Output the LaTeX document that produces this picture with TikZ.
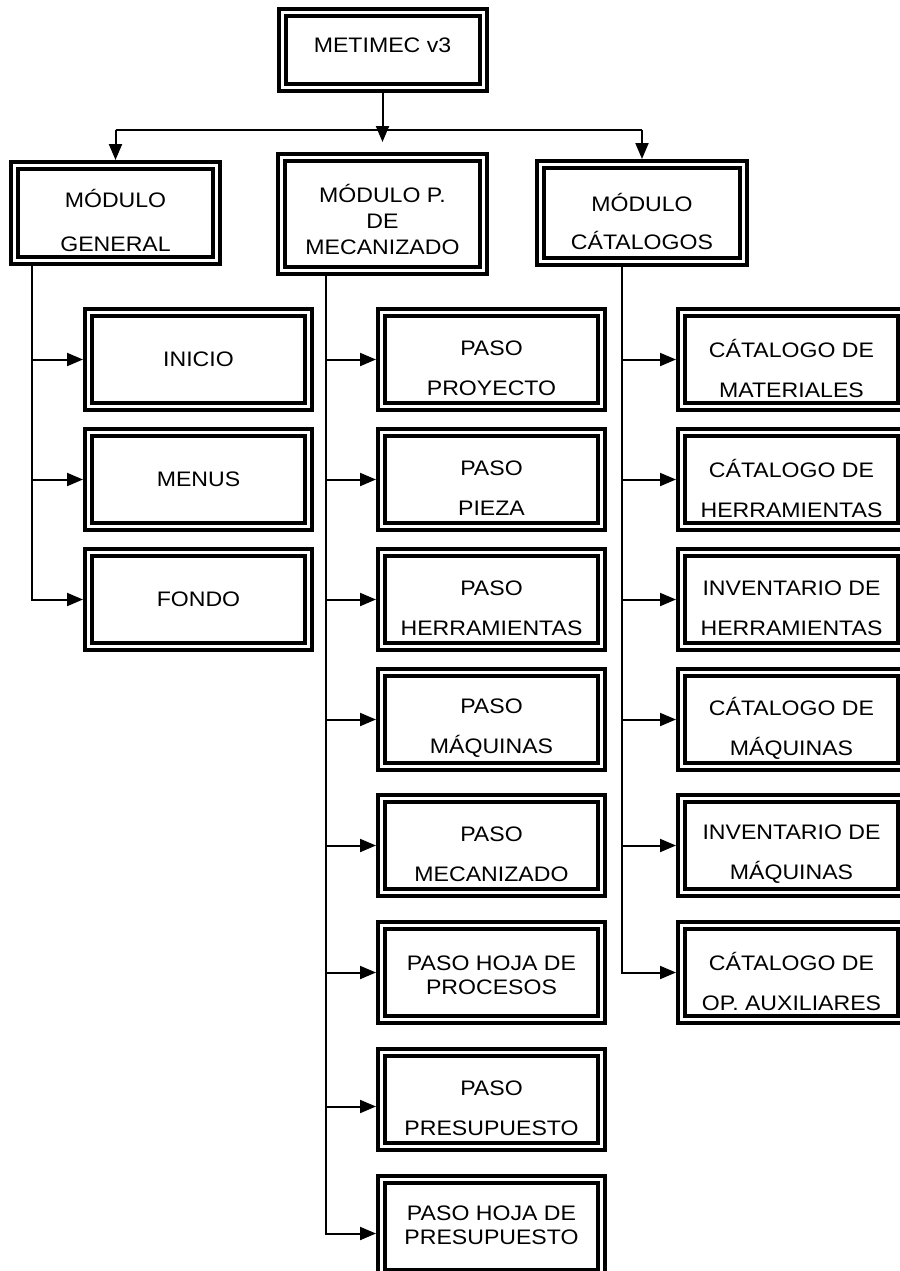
\documentclass[tikz,border=0pt]{standalone}
\usepackage{fontspec}
\setmainfont{Liberation Sans}[FakeStretch=1.1]
\usetikzlibrary{arrows.meta, positioning}

\begin{document}
\begin{tikzpicture}[x=0.5pt, y=-0.5pt, >={Triangle[length=8pt,width=6.5pt]},
    box/.style={draw, line width=2pt, double, double distance=1.5pt, outer sep=2.75pt, inner sep=0pt, minimum width=110pt, minimum height=47pt},
    modbox/.style={box, minimum width=101pt, minimum height=47.5pt},
    txt/.style={font=\fontsize{10.5pt}{12pt}\selectfont, align=center, inner sep=0pt},
    lbl/.style={txt, yshift=-4.25pt},
    link/.style={line width=1pt}]
    \path[use as bounding box] (0,0) rectangle (900,1271);
    \clip (0,0) rectangle (900,1271);

    % raiz y modulos
    \node[box, minimum width=100.5pt, minimum height=37.5pt, label={[txt,yshift=2.5pt]center:METIMEC v3}] (metimec) at (382.5,50) {};
    \node[modbox, label={[txt,yshift=-3.5pt]center:MÓDULO\\[10pt]GENERAL}] (general) at (115.5,213) {};
    \node[modbox, minimum height=56.5pt, label={[txt,yshift=-2.5pt]center:MÓDULO P.\\[1pt]DE\\[1pt]MECANIZADO}] (mecan) at (382.5,214) {};
    \node[modbox, minimum width=101.5pt, minimum height=48.5pt, label={[txt,yshift=-4pt]center:MÓDULO\\[7pt]CÁTALOGOS}] (catalog) at (642,213) {};

    % modulo general
    \node[box, label={[txt]center:INICIO}] (inicio) at (198.5,359.5) {};
    \node[box, below=7.5pt of inicio, label={[txt]center:MENUS}] (menus) {};
    \node[box, below=7.5pt of menus, label={[txt]center:FONDO}] (fondo) {};

    % modulo p. de mecanizado
    \node[box, label={[lbl]center:PASO\\[8pt]PROYECTO}] (proyecto) at (491.5,359.5) {};
    \node[box, below=7.5pt of proyecto, label={[lbl]center:PASO\\[8pt]PIEZA}] (pieza) {};
    \node[box, below=7.5pt of pieza, label={[lbl]center:PASO\\[8pt]HERRAMIENTAS}] (pherr) {};
    \node[box, below=7.5pt of pherr, label={[lbl]center:PASO\\[8pt]MÁQUINAS}] (pmaq) {};
    \node[box, below=10.5pt of pmaq, label={[lbl]center:PASO\\[8pt]MECANIZADO}] (pmec) {};
    \node[box, below=11pt of pmec, label={[txt,yshift=-1.25pt]center:PASO HOJA DE\\PROCESOS}] (procesos) {};
    \node[box, below=11pt of procesos, label={[lbl]center:PASO\\[8pt]PRESUPUESTO}] (presup) {};
    \node[box, below=11pt of presup, label={[txt,yshift=0.5pt]center:PASO HOJA DE\\PRESUPUESTO}] (hojapresup) {};

    % modulo catalogos
    \node[box, label={[lbl]center:CÁTALOGO DE\\[8pt]MATERIALES}] (materiales) at (791.5,359.5) {};
    \node[box, below=7.5pt of materiales, label={[lbl]center:CÁTALOGO DE\\[8pt]HERRAMIENTAS}] (cherr) {};
    \node[box, below=7.5pt of cherr, label={[lbl]center:INVENTARIO DE\\[8pt]HERRAMIENTAS}] (iherr) {};
    \node[box, below=7.5pt of iherr, label={[lbl]center:CÁTALOGO DE\\[8pt]MÁQUINAS}] (cmaq) {};
    \node[box, below=10.5pt of cmaq, label={[lbl]center:INVENTARIO DE\\[8pt]MÁQUINAS}] (imaq) {};
    \node[box, below=11pt of imaq, label={[lbl]center:CÁTALOGO DE\\[8pt]OP. AUXILIARES}] (auxiliares) {};

    \coordinate (bus) at (382.5,130);
    \coordinate[above=5pt of mecan.north] (midtip);
    \coordinate (gdown) at ([xshift=11.5pt]general.south west);
    \coordinate (mdown) at ([xshift=25pt]mecan.south west);
    \coordinate (cdown) at ([xshift=43.5pt]catalog.south west);

    \draw[link, ->] (metimec.south) -- (midtip);
    \draw[link] (general.north |- bus) -- (catalog.north |- bus);
    \draw[link, ->] (general.north |- bus) -- (general.north);
    \draw[link, ->] (catalog.north |- bus) -- (catalog.north);

    \draw[link, ->] (gdown) |- (inicio.west);
    \draw[link, ->] (gdown) |- (menus.west);
    \draw[link, ->] (gdown) |- (fondo.west);

    \draw[link, ->] (mdown) |- (proyecto.west);
    \draw[link, ->] (mdown) |- (pieza.west);
    \draw[link, ->] (mdown) |- (pherr.west);
    \draw[link, ->] (mdown) |- (pmaq.west);
    \draw[link, ->] (mdown) |- (pmec.west);
    \draw[link, ->] (mdown) |- (procesos.west);
    \draw[link, ->] (mdown) |- ([yshift=-3.5pt]presup.west);
    \draw[link, ->] (mdown) |- ([yshift=-3.5pt]hojapresup.west);

    \draw[link, ->] (cdown) |- (materiales.west);
    \draw[link, ->] (cdown) |- (cherr.west);
    \draw[link, ->] (cdown) |- (iherr.west);
    \draw[link, ->] (cdown) |- (cmaq.west);
    \draw[link, ->] (cdown) |- (imaq.west);
    \draw[link, ->] (cdown) |- (auxiliares.west);
\end{tikzpicture}
\end{document}
